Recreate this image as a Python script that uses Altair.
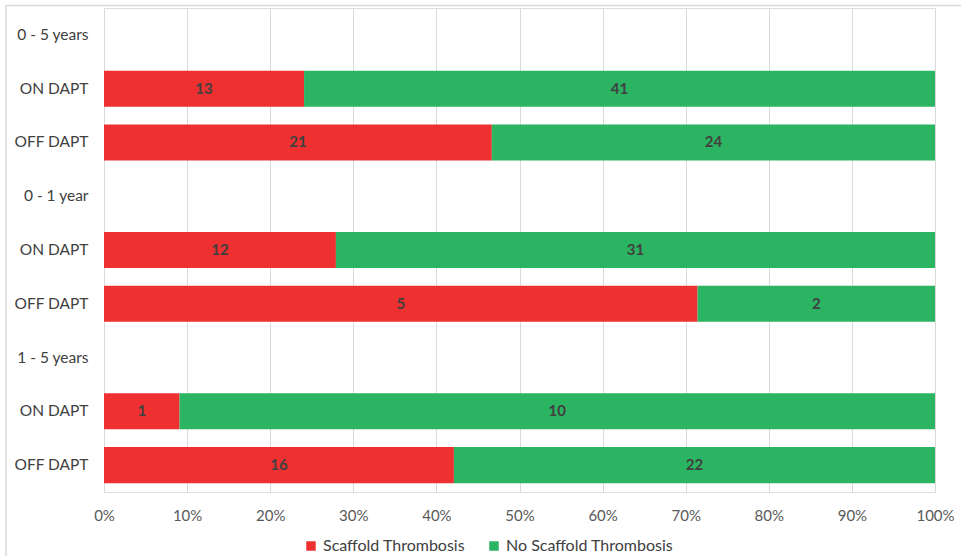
import altair as alt
import pandas as pd

# Row order, top to bottom: period headers followed by their DAPT groups
row_keys = [
    "0 - 5 years", "ON DAPT|0-5", "OFF DAPT|0-5",
    "0 - 1 year", "ON DAPT|0-1", "OFF DAPT|0-1",
    "1 - 5 years", "ON DAPT|1-5", "OFF DAPT|1-5",
]

bar_rows = ["ON DAPT|0-5", "OFF DAPT|0-5", "ON DAPT|0-1", "OFF DAPT|0-1",
            "ON DAPT|1-5", "OFF DAPT|1-5"]
scaffold_thrombosis = [13, 21, 12, 5, 1, 16]
no_scaffold_thrombosis = [41, 24, 31, 2, 10, 22]

series = ["Scaffold Thrombosis", "No Scaffold Thrombosis"]
colors = ["#ee3030", "#2bb462"]

records = []
for r, a, b in zip(bar_rows, scaffold_thrombosis, no_scaffold_thrombosis):
    records.append({"row": r, "series": series[0], "order": 0, "count": a})
    records.append({"row": r, "series": series[1], "order": 1, "count": b})
df = pd.DataFrame(records)

FONT = "Lato"

base = alt.Chart(df).transform_joinaggregate(
    total="sum(count)", groupby=["row"]
).transform_calculate(
    frac="datum.count / datum.total"
).transform_window(
    end="sum(frac)", sort=[alt.SortField("order")], groupby=["row"], frame=[None, 0]
).transform_calculate(
    start="datum.end - datum.frac",
    mid="datum.end - datum.frac / 2",
)

y_enc = alt.Y(
    "row:N",
    scale=alt.Scale(domain=row_keys, paddingInner=0.33, paddingOuter=0.165),
    axis=alt.Axis(
        title=None, domain=False, ticks=False, grid=False,
        labelExpr="split(datum.label, '|')[0]",
        labelFont=FONT, labelFontSize=15.5, labelColor="#404040", labelPadding=16,
    ),
)

bars = base.mark_bar().encode(
    x=alt.X(
        "start:Q",
        scale=alt.Scale(domain=[0, 1], nice=False),
        axis=alt.Axis(
            title=None, format="%", values=[i / 10 for i in range(11)],
            domain=False, ticks=False, grid=True, gridColor="#d9d9d9",
            labelFlush=False, labelBound=False,
            labelFont=FONT, labelFontSize=15, labelColor="#595959", labelPadding=16,
        ),
    ),
    x2="end:Q",
    y=y_enc,
    color=alt.Color(
        "series:N",
        scale=alt.Scale(domain=series, range=colors),
        legend=alt.Legend(
            title=None, orient="none", direction="horizontal",
            legendX=199, legendY=530, symbolType="square", symbolSize=90,
            symbolStrokeWidth=0, labelFont=FONT, labelFontSize=16, labelLimit=400,
            labelColor="#404040", columnPadding=20, labelOffset=4,
        ),
    ),
    order="order:Q",
)

labels = base.mark_text(
    font=FONT, fontSize=15, fontWeight="bold", color="#404040", baseline="middle"
).encode(
    x="mid:Q",
    y=alt.Y("row:N", scale=alt.Scale(domain=row_keys)),
    text="count:Q",
)

# Thin frame along the top and left edges of the chart area
frame = alt.Chart(alt.Data(values=[{}])).mark_rule(color="#d9d9d9", strokeWidth=1.5).encode(
    x=alt.value(-98), x2=alt.value(860), y=alt.value(-2.5), y2=alt.value(-2.5)
)
frame_left = alt.Chart(alt.Data(values=[{}])).mark_rule(color="#d9d9d9", strokeWidth=1.5).encode(
    x=alt.value(-98), x2=alt.value(-98), y=alt.value(-2.5), y2=alt.value(560)
)

chart = alt.layer(bars, labels, frame, frame_left).properties(
    width=831, height=484,
    autosize=alt.AutoSizeParams(type="none"),
    padding={"left": 104, "top": 8, "right": 26, "bottom": 64},
).configure_view(stroke=None).configure(background="white")

chart.save("out.html", embed_options={"renderer": "svg", "actions": False})
